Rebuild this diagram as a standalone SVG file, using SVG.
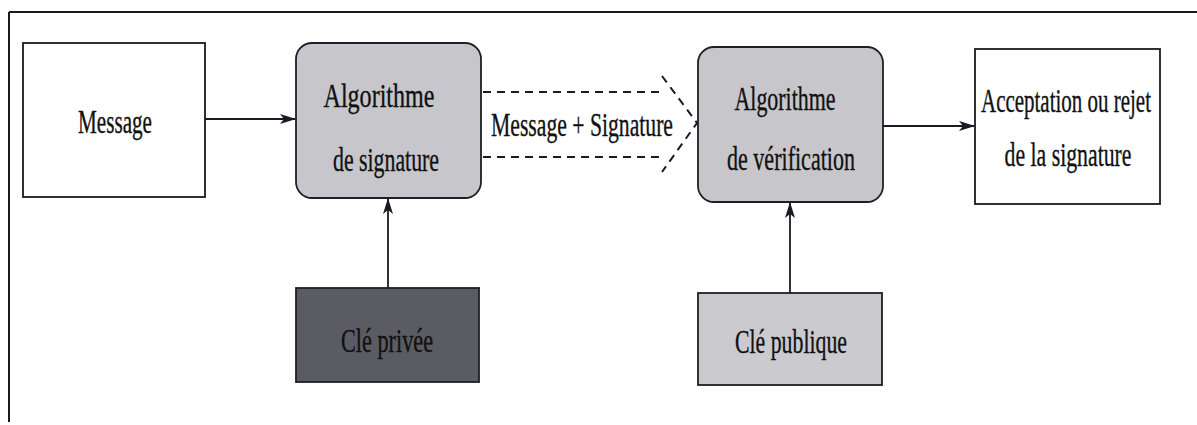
<svg xmlns="http://www.w3.org/2000/svg" width="1197" height="425" viewBox="0 0 1197 425">
  <defs>
    <marker id="arrow" viewBox="0 0 16 10" refX="15" refY="5" markerWidth="16" markerHeight="10" markerUnits="userSpaceOnUse" orient="auto">
      <path d="M0,0 L16,5 L0,10 L4,5 z" fill="#1a1a24"/>
    </marker>
    <linearGradient id="frameFade" x1="0" y1="0" x2="1" y2="0">
      <stop offset="0" stop-color="#111"/>
      <stop offset="0.8" stop-color="#222"/>
      <stop offset="1" stop-color="#222" stop-opacity="0"/>
    </linearGradient>
    <style>
      .lbl { font-family: "Liberation Serif", "DejaVu Serif", serif; font-size: 34px; fill: #111; stroke: #111; stroke-width: 0.35; }
      .plain { fill: #ffffff; stroke: #1a1a22; stroke-width: 1.8; }
      .proc { fill: #c6c6cb; stroke: #1e1e26; stroke-width: 1.8; }
      .pub { fill: #cbcbcf; stroke: #1e1e26; stroke-width: 1.8; }
      .priv { fill: #5b5c62; stroke: #1e1e26; stroke-width: 1.8; }
      .link { fill: none; stroke: #1a1a22; stroke-width: 1.8; }
      .dash { fill: none; stroke: #1a1a22; stroke-width: 2; stroke-dasharray: 8 6; }
    </style>
  </defs>

  <rect width="1197" height="425" fill="#ffffff"/>

  <!-- outer frame -->
  <g id="frame">
    <path d="M9,12 H1197" fill="none" stroke="#1a1a1a" stroke-width="2"/>
    <path d="M9,12 V422" fill="none" stroke="#1a1a1a" stroke-width="2"/>
    <path d="M8,422 H560" fill="none" stroke="url(#frameFade)" stroke-width="2.5"/>
  </g>

  <!-- connectors -->
  <g id="connectors">
    <line class="link" x1="205" y1="119" x2="295" y2="119" marker-end="url(#arrow)"/>
    <line class="link" x1="388" y1="288" x2="388" y2="199" marker-end="url(#arrow)"/>
    <line class="link" x1="790" y1="293" x2="790" y2="203" marker-end="url(#arrow)"/>
    <line class="link" x1="883" y1="126" x2="974" y2="126" marker-end="url(#arrow)"/>
    <!-- dashed wide arrow carrying message and signature -->
    <g id="transfer">
      <path class="dash" d="M483,92 H660"/>
      <path class="dash" d="M483,157 H660"/>
      <path class="dash" d="M662,76 L697,123 L662,172"/>
      <text class="lbl" x="582" y="136" text-anchor="middle" textLength="182" lengthAdjust="spacingAndGlyphs">Message + Signature</text>
    </g>
  </g>

  <g id="message">
    <rect class="plain" x="23" y="43" width="182" height="154"/>
    <text class="lbl" x="115" y="133" text-anchor="middle" textLength="74" lengthAdjust="spacingAndGlyphs">Message</text>
  </g>

  <g id="signing">
    <rect class="proc" x="296" y="43" width="185" height="155" rx="16" ry="16"/>
    <text class="lbl" x="379" y="107" text-anchor="middle" textLength="111" lengthAdjust="spacingAndGlyphs">Algorithme</text>
    <text class="lbl" x="386" y="171" text-anchor="middle" textLength="106" lengthAdjust="spacingAndGlyphs">de signature</text>
  </g>

  <g id="verifying">
    <rect class="proc" x="698" y="47" width="185" height="155" rx="16" ry="16"/>
    <text class="lbl" x="785" y="110" text-anchor="middle" textLength="101" lengthAdjust="spacingAndGlyphs">Algorithme</text>
    <text class="lbl" x="791" y="170" text-anchor="middle" textLength="128" lengthAdjust="spacingAndGlyphs">de vérification</text>
  </g>

  <g id="result">
    <rect class="plain" x="975" y="49" width="185" height="155"/>
    <text class="lbl" x="1066" y="112" text-anchor="middle" textLength="170" lengthAdjust="spacingAndGlyphs">Acceptation ou rejet</text>
    <text class="lbl" x="1068" y="166" text-anchor="middle" textLength="127" lengthAdjust="spacingAndGlyphs">de la signature</text>
  </g>

  <g id="private-key">
    <rect class="priv" x="296" y="288" width="183" height="94"/>
    <text class="lbl" x="387" y="352" text-anchor="middle" textLength="92" lengthAdjust="spacingAndGlyphs">Clé privée</text>
  </g>

  <g id="public-key">
    <rect class="pub" x="698" y="293" width="184" height="92"/>
    <text class="lbl" x="791" y="353" text-anchor="middle" textLength="112" lengthAdjust="spacingAndGlyphs">Clé publique</text>
  </g>
</svg>
